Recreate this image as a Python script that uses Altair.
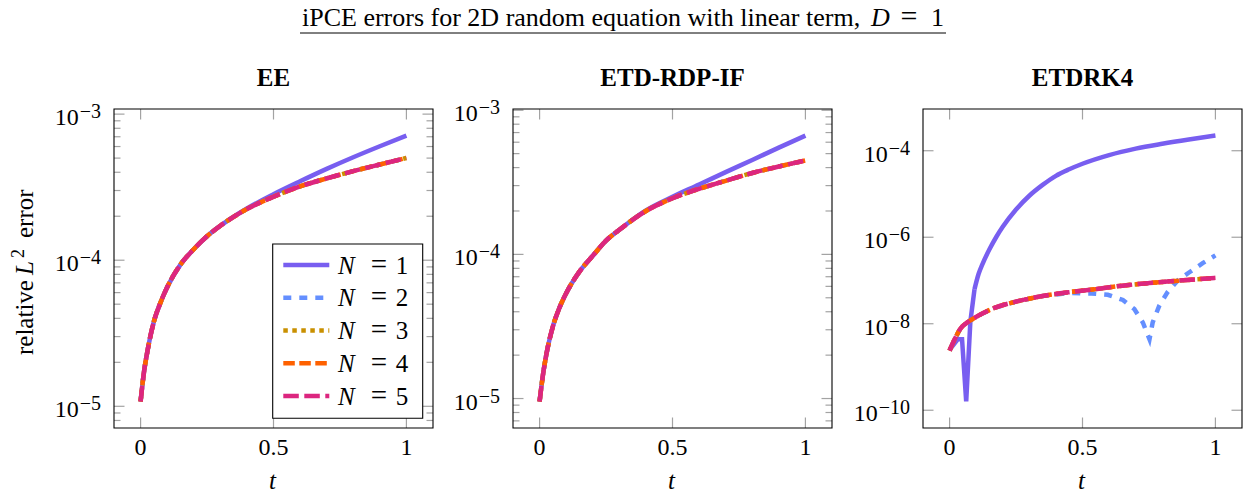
import math

import altair as alt
import pandas as pd

# ---------------------------------------------------------------- data
N_VALUES = [1, 2, 3, 4, 5]
PANEL_TITLES = ["EE", "ETD-RDP-IF", "ETDRK4"]
MAIN_TITLE = "iPCE errors for 2D random equation with linear term,"
MAIN_TITLE_MATH = ["D", "=", "1"]
Y_TITLE = ["relative", "L", "2", "error"]
X_TITLE = "t"
X_TICKS = [0, 0.5, 1]
X_TICK_LABELS = ["0", "0.5", "1"]
X_DOMAIN = [-0.1, 1.1]

# EE
ee_t = [0, 0.0125, 0.025, 0.05, 0.075, 0.1, 0.15, 0.2, 0.25, 0.3, 0.4, 0.5, 0.6, 0.7, 0.8, 0.9, 1.0]
ee_n1 = [1.08e-5, 1.70e-5, 2.34e-5, 3.80e-5, 5.13e-5, 6.53e-5, 9.33e-5, 1.19e-4, 1.46e-4,
         1.72e-4, 2.26e-4, 2.83e-4, 3.47e-4, 4.22e-4, 5.07e-4, 6.03e-4, 7.13e-4]
ee_hi = [1.08e-5, 1.70e-5, 2.34e-5, 3.80e-5, 5.13e-5, 6.53e-5, 9.33e-5, 1.19e-4, 1.46e-4,
         1.72e-4, 2.24e-4, 2.72e-4, 3.20e-4, 3.63e-4, 4.07e-4, 4.52e-4, 5.01e-4]

# ETD-RDP-IF
rdp_t = [0, 0.0125, 0.025, 0.05, 0.075, 0.1, 0.15, 0.2, 0.25, 0.3, 0.4, 0.5, 0.6, 0.7, 0.8, 0.9, 1.0]
rdp_n1 = [9.55e-6, 1.45e-5, 2.00e-5, 3.16e-5, 4.27e-5, 5.37e-5, 7.59e-5, 9.77e-5, 1.245e-4,
          1.48e-4, 2.02e-4, 2.51e-4, 3.05e-4, 3.72e-4, 4.52e-4, 5.50e-4, 6.67e-4]
rdp_hi = [9.55e-6, 1.45e-5, 2.00e-5, 3.16e-5, 4.27e-5, 5.37e-5, 7.59e-5, 9.77e-5, 1.245e-4,
          1.48e-4, 2.00e-4, 2.45e-4, 2.85e-4, 3.24e-4, 3.67e-4, 4.07e-4, 4.48e-4]

# ETDRK4
rk4_t_n1 = [0, 0.03125, 0.046875, 0.0625, 0.078125, 0.09375, 0.109, 0.125, 0.15, 0.175, 0.2,
            0.25, 0.3, 0.35, 0.4, 0.45, 0.5, 0.6, 0.7, 0.8, 0.9, 1.0]
rk4_n1 = [2.5e-9, 4.4e-9, 4.4e-9, 1.6e-10, 1.12e-8, 6.3e-8, 1.41e-7, 2.5e-7, 5.25e-7, 1.0e-6,
          1.74e-6, 4.37e-6, 9.1e-6, 1.62e-5, 2.63e-5, 3.72e-5, 5.0e-5, 7.94e-5, 1.12e-4,
          1.45e-4, 1.82e-4, 2.24e-4]
rk4_t_n2 = [0, 0.02, 0.04, 0.06, 0.09, 0.125, 0.17, 0.25, 0.35, 0.45, 0.533, 0.595, 0.652,
            0.695, 0.727, 0.752, 0.764, 0.789, 0.82, 0.858, 0.902, 0.952, 1.0]
rk4_n2 = [2.40e-9, 4.47e-9, 7.59e-9, 1.0e-8, 1.32e-8, 1.74e-8, 2.34e-8, 3.24e-8, 4.37e-8,
          5.13e-8, 5.01e-8, 4.68e-8, 3.55e-8, 2.19e-8, 1.07e-8, 4.37e-9, 1.07e-8, 2.63e-8,
          5.37e-8, 1.0e-7, 1.55e-7, 2.51e-7, 3.80e-7]
rk4_t_hi = [0, 0.02, 0.04, 0.06, 0.09, 0.125, 0.17, 0.25, 0.35, 0.45, 0.55, 0.65, 0.75, 0.85, 1.0]
rk4_hi = [2.40e-9, 4.47e-9, 7.59e-9, 1.0e-8, 1.32e-8, 1.74e-8, 2.34e-8, 3.24e-8, 4.37e-8,
          5.37e-8, 6.31e-8, 7.59e-8, 8.71e-8, 9.77e-8, 1.15e-7]

# ---------------------------------------------------------------- style
FONT = "Liberation Serif"
COLORS = ["#785EF0", "#648FFF", "#C99000", "#FE6100", "#DC267F"]
DASHES = [None, [8, 8], [4.5, 4.5], [11.5, 4.5], [15.5, 5.5]]
LINE_W = 4.5
TICK_COLOR = "#a3a3a3"
MAJOR_LEN, MINOR_LEN = 10.5, 6.5
TEXT_SIZE = 25
TICK_SIZE = 24
EXP_SIZE = 20
EXP_RIGHT = -13
PANEL = 319                    # side of each square plot area
CELL_WIDTHS = [399, 410, 319]  # plot area plus the gap before the next one
FIG_W, FIG_H = 1249, 493
ORIGIN = (114, 109)            # top-left corner of the first plot area


def x_enc():
    return alt.X("t:Q", scale=alt.Scale(domain=X_DOMAIN, range=[0, PANEL], nice=False, zero=False),
                 axis=None)


def y_enc(dom):
    return alt.Y("err:Q", scale=alt.Scale(type="log", domain=dom, nice=False), axis=None)


def log_domain(*arrays):
    vals = [v for a in arrays for v in a]
    lo, hi = math.log10(min(vals)), math.log10(max(vals))
    pad = 0.1 * (hi - lo)
    return [10 ** (lo - pad), 10 ** (hi + pad)]


def minor_ticks(dom):
    out = []
    for e in range(math.floor(math.log10(dom[0])), math.ceil(math.log10(dom[1])) + 1):
        for k in range(2, 10):
            v = k * 10.0 ** e
            if dom[0] <= v <= dom[1]:
                out.append(v)
    return out


def one_row(**cols):
    return pd.DataFrame({k: [v] for k, v in cols.items()})


def text(s, x, y, size=TEXT_SIZE, **kw):
    return alt.Chart(one_row(s=s)).mark_text(
        font=FONT, fontSize=size, color="black", baseline="alphabetic", **kw
    ).encode(x=alt.value(x), y=alt.value(y), text="s:N")


def line(t, v, i, dom, interp="monotone"):
    kw = dict(color=COLORS[i], strokeWidth=LINE_W, strokeCap="butt", interpolate=interp)
    if DASHES[i]:
        kw["strokeDash"] = DASHES[i]
    return alt.Chart(pd.DataFrame({"t": t, "err": v})).mark_line(**kw).encode(x=x_enc(), y=y_enc(dom))


def y_rules(vals, dom, length):
    base = alt.Chart(pd.DataFrame({"err": vals})).mark_rule(color=TICK_COLOR, strokeWidth=1.2)
    return [
        base.encode(y=y_enc(dom), x=alt.value(0), x2=alt.value(length)),
        base.encode(y=y_enc(dom), x=alt.value(PANEL - length), x2=alt.value(PANEL)),
    ]


def x_rules():
    base = alt.Chart(pd.DataFrame({"t": X_TICKS})).mark_rule(color=TICK_COLOR, strokeWidth=1.2)
    return [
        base.encode(x=x_enc(), y=alt.value(PANEL - MAJOR_LEN), y2=alt.value(PANEL)),
        base.encode(x=x_enc(), y=alt.value(0), y2=alt.value(MAJOR_LEN)),
    ]


def y_labels(vals, dom):
    out = []
    for v in vals:
        e = abs(round(math.log10(v)))
        exp_txt = "\u2212" + str(e)
        exp_w = EXP_SIZE * (0.564 + 0.5 * len(str(e)))
        df = one_row(err=v, base="10", exp=exp_txt)
        out.append(alt.Chart(df).mark_text(
            font=FONT, fontSize=TICK_SIZE, align="right", baseline="alphabetic", dy=11
        ).encode(y=y_enc(dom), x=alt.value(EXP_RIGHT - exp_w - 1), text="base:N"))
        out.append(alt.Chart(df).mark_text(
            font=FONT, fontSize=EXP_SIZE, align="right", baseline="alphabetic", dy=4
        ).encode(y=y_enc(dom), x=alt.value(EXP_RIGHT), text="exp:N"))
    return out


def x_labels():
    df = pd.DataFrame({"t": X_TICKS, "lab": X_TICK_LABELS})
    return alt.Chart(df).mark_text(
        font=FONT, fontSize=TICK_SIZE, align="center", baseline="alphabetic"
    ).encode(x=x_enc(), y=alt.value(PANEL + 27), text="lab:N")


def frame():
    return alt.Chart(one_row(a=0)).mark_rect(filled=False, stroke="black", strokeWidth=1.1).encode(
        x=alt.value(0), x2=alt.value(PANEL), y=alt.value(0), y2=alt.value(PANEL))


def legend():
    x0, x1, y0, y1 = 158.7, 308.7, 135, 309.3
    layers = [alt.Chart(one_row(a=0)).mark_rect(fill="white", stroke="black", strokeWidth=1.1).encode(
        x=alt.value(x0), x2=alt.value(x1), y=alt.value(y0), y2=alt.value(y1))]
    for i, n in enumerate(N_VALUES):
        ry = 156 + 32.75 * i
        kw = dict(color=COLORS[i], strokeWidth=LINE_W, strokeCap="butt")
        if DASHES[i]:
            kw["strokeDash"] = DASHES[i]
        layers.append(alt.Chart(one_row(n=n)).mark_rule(**kw).encode(
            x=alt.value(169.3), x2=alt.value(215.3), y=alt.value(ry)))
        layers.append(text("N", 224, ry + 8.7, align="left", fontStyle="italic"))
        layers.append(text("=", 265, ry + 8.7, size=29, align="center"))
        layers.append(text(str(n), 288, ry + 8.7, align="center"))
    return layers


def panel(k, series, majors, with_minor):
    """series: list of (t, values, interpolation, n_index) drawn in order."""
    dom = log_domain(*[s[1] for s in series])
    layers = []
    if with_minor:
        layers += y_rules(minor_ticks(dom), dom, MINOR_LEN)
    layers += y_rules(majors, dom, MAJOR_LEN)
    layers += x_rules()
    for t, v, interp, i in series:
        layers.append(line(t, v, i, dom, interp))
    layers += y_labels(majors, dom)
    layers.append(x_labels())
    layers.append(text(X_TITLE, PANEL / 2 - 1, 380, align="center", fontStyle="italic"))
    layers.append(text(PANEL_TITLES[k], PANEL / 2, -23, align="center", fontWeight="bold"))
    return layers


# EE panel, with legend, y title and the layout box of the whole figure
ee_layers = panel(0, [(ee_t, ee_n1, "monotone", 0)]
                  + [(ee_t, ee_hi, "monotone", i) for i in range(1, 5)],
                  [1e-5, 1e-4, 1e-3], True)
ee_layers += legend()
ee_layers += [
    text(Y_TITLE[0], -81, 246, angle=270, align="left"),
    text(Y_TITLE[1], -81, 166, angle=270, align="left", fontStyle="italic"),
    text(Y_TITLE[2], -90, 149, size=18, angle=270, align="left"),
    text(Y_TITLE[3], -81, 129, angle=270, align="left"),
    alt.Chart(one_row(a=0)).mark_rule(strokeOpacity=0, strokeWidth=1).encode(
        x=alt.value(-ORIGIN[0] + 0.5), x2=alt.value(FIG_W - ORIGIN[0] - 0.5),
        y=alt.value(-ORIGIN[1] + 0.5), y2=alt.value(FIG_H - ORIGIN[1] - 0.5)),
]
ee_layers.append(frame())

# ETD-RDP-IF panel, carrying the figure title
rdp_layers = panel(1, [(rdp_t, rdp_n1, "monotone", 0)]
                   + [(rdp_t, rdp_hi, "monotone", i) for i in range(1, 5)],
                   [1e-5, 1e-4, 1e-3], True)
rdp_layers += [
    text(MAIN_TITLE, -211, -83, size=26, align="left"),
    text(MAIN_TITLE_MATH[0], 358, -83, size=26, align="left", fontStyle="italic"),
    text(MAIN_TITLE_MATH[1], 396, -83, size=30, align="center"),
    text(MAIN_TITLE_MATH[2], 431, -83, size=26, align="right"),
    alt.Chart(one_row(a=0)).mark_rule(color="black", strokeWidth=1).encode(
        x=alt.value(-213), x2=alt.value(433), y=alt.value(-76)),
]
rdp_layers.append(frame())

# ETDRK4 panel: the N = 1 curve is straight-segmented through its sign change
# and smooth afterwards
CUT = 5
rk4_layers = panel(2, [
    (rk4_t_n1[:CUT + 1], rk4_n1[:CUT + 1], "linear", 0),
    (rk4_t_n1[CUT:], rk4_n1[CUT:], "monotone", 0),
    (rk4_t_n2, rk4_n2, "linear", 1),
] + [(rk4_t_hi, rk4_hi, "monotone", i) for i in range(2, 5)],
    [1e-10, 1e-8, 1e-6, 1e-4], False)
rk4_layers.append(frame())

charts = [
    alt.layer(*ly).properties(width=w, height=PANEL)
    for ly, w in zip([ee_layers, rdp_layers, rk4_layers], CELL_WIDTHS)
]

chart = alt.hconcat(*charts, spacing=0, bounds="flush", padding=0, background="white").configure_view(
    strokeWidth=0
)
chart.save("out.html", embed_options={"renderer": "svg", "actions": False})
